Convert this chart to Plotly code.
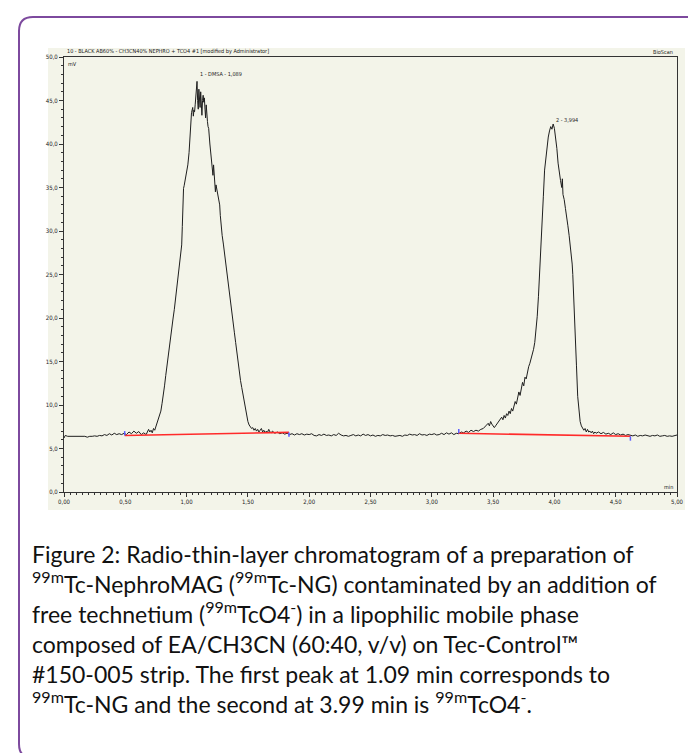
import plotly.graph_objects as go

# ---------------- data ----------------
time_min = [
    0.00, 0.01, 0.03, 0.05, 0.07, 0.09, 0.11, 0.13, 0.15, 0.17, 0.19, 0.21, 0.23, 0.25, 0.27, 0.29,
    0.31, 0.33, 0.35, 0.37, 0.39, 0.41, 0.43, 0.45, 0.47, 0.49, 0.51, 0.53, 0.55, 0.57, 0.59, 0.61,
    0.63, 0.65, 0.67, 0.69, 0.70, 0.71, 0.72, 0.73, 0.74, 0.75,
    0.76, 0.77, 0.78, 0.79, 0.80, 0.81, 0.82, 0.83, 0.84, 0.85, 0.86, 0.87, 0.88, 0.89, 0.90, 0.91,
    0.92, 0.93, 0.94, 0.95, 0.96, 0.965, 0.97, 0.975, 0.98, 0.99, 1.00, 1.01, 1.02, 1.03, 1.035,
    1.04, 1.05, 1.055, 1.06, 1.065, 1.07, 1.075, 1.08, 1.085, 1.09, 1.095, 1.10, 1.105, 1.11, 1.115,
    1.12, 1.125, 1.13, 1.135, 1.14, 1.145, 1.15, 1.155, 1.16, 1.165, 1.17, 1.175, 1.18, 1.19, 1.20,
    1.21, 1.215, 1.22, 1.225, 1.23, 1.235, 1.24, 1.25, 1.26, 1.27, 1.275, 1.28, 1.29, 1.30, 1.31,
    1.32, 1.33, 1.34, 1.35, 1.36, 1.37, 1.38, 1.39, 1.40, 1.41, 1.42, 1.43, 1.44, 1.45, 1.46, 1.47,
    1.48, 1.49, 1.50, 1.51, 1.52, 1.53, 1.54, 1.55, 1.56, 1.57, 1.58, 1.59, 1.60, 1.61, 1.62, 1.63,
    1.64, 1.65, 1.66, 1.67, 1.68, 1.69, 1.70, 1.72, 1.74, 1.76, 1.78, 1.80, 1.82, 1.84, 1.86, 1.88,
    1.90, 1.92, 1.94, 1.96, 1.98, 2.00, 2.02, 2.04, 2.06, 2.08, 2.10, 2.12, 2.14, 2.16, 2.18, 2.20,
    2.22, 2.24, 2.26, 2.28, 2.30, 2.32, 2.34, 2.36, 2.38, 2.40, 2.42, 2.44, 2.46, 2.48, 2.50, 2.52,
    2.54, 2.56, 2.58, 2.60, 2.62, 2.64, 2.66, 2.68, 2.70, 2.72, 2.74, 2.76, 2.78, 2.80, 2.82, 2.84,
    2.86, 2.88, 2.90, 2.92, 2.94, 2.96, 2.98, 3.00, 3.02, 3.04, 3.06, 3.08, 3.10, 3.12, 3.14, 3.16,
    3.18, 3.20, 3.22, 3.24, 3.26, 3.28, 3.30, 3.32, 3.34, 3.36, 3.38, 3.40, 3.42, 3.44, 3.46, 3.47,
    3.48, 3.49, 3.50, 3.51, 3.52, 3.53, 3.54, 3.55, 3.56, 3.57, 3.58, 3.59, 3.60, 3.61, 3.62, 3.63,
    3.64, 3.65, 3.66, 3.67, 3.68, 3.69, 3.70, 3.71, 3.72, 3.73, 3.74, 3.75, 3.76, 3.77, 3.78, 3.79,
    3.80, 3.81, 3.82, 3.83, 3.84, 3.85, 3.86, 3.87, 3.88, 3.89, 3.90, 3.91, 3.92, 3.93, 3.94, 3.95,
    3.96, 3.97, 3.98, 3.99, 4.00, 4.01, 4.02, 4.03, 4.04, 4.05, 4.06, 4.065, 4.07, 4.08, 4.09, 4.10,
    4.11, 4.12, 4.13, 4.14, 4.145, 4.15, 4.16, 4.17, 4.18, 4.19, 4.20, 4.21, 4.22, 4.23, 4.24, 4.25,
    4.26, 4.27, 4.28, 4.29, 4.30, 4.31, 4.32, 4.33, 4.34, 4.36, 4.38, 4.40, 4.42, 4.44, 4.46, 4.48,
    4.50, 4.52, 4.54, 4.56, 4.58, 4.60, 4.62, 4.64, 4.66, 4.68, 4.70, 4.72, 4.74, 4.76, 4.78, 4.80,
    4.82, 4.84, 4.86, 4.88, 4.90, 4.92, 4.94, 4.96, 4.98, 5.00,
]
signal_mv = [
    6.2, 6.5, 6.4, 6.4, 6.35, 6.4, 6.35, 6.4, 6.35, 6.4, 6.3, 6.4, 6.4, 6.45, 6.4, 6.5,
    6.45, 6.6, 6.5, 6.7, 6.55, 6.75, 6.6, 6.7, 6.6, 6.75, 6.6, 6.9, 6.7, 7.0, 6.75, 6.95,
    6.6, 6.8, 6.6, 7.2, 6.9, 7.1, 6.8, 7.3, 7.1, 7.6,
    8.0, 8.6, 8.9, 9.3, 10.2, 11.0, 12.2, 13.4, 14.6, 15.3, 16.5, 17.8, 19.2, 20.0, 21.0, 22.3,
    23.8, 24.6, 25.8, 27.0, 28.4, 30.5, 33.5, 34.9, 35.2, 36.0, 36.8, 37.6, 39.0, 41.5, 43.2,
    43.6, 44.2, 43.2, 43.9, 43.7, 44.5, 45.2, 46.0, 47.2, 45.0, 44.0, 46.3, 45.0, 44.2, 46.0,
    44.5, 43.3, 45.0, 45.6, 44.8, 45.3, 44.0, 43.0, 44.5, 43.0, 42.6, 42.0, 41.8, 40.0, 38.6,
    37.6, 36.4, 37.6, 36.0, 35.0, 34.5, 35.3, 34.5, 33.5, 33.0, 31.8, 30.5, 29.5, 28.5, 27.3,
    26.0, 25.0, 24.0, 22.8, 21.8, 20.5, 19.4, 18.3, 17.2, 16.0, 15.0, 13.6, 12.8, 12.0, 11.2, 10.5,
    9.6, 8.7, 8.1, 7.7, 7.5, 7.3, 7.4, 7.1, 7.3, 7.0, 7.2, 6.9, 7.1, 7.3, 6.9, 7.1,
    6.8, 7.0, 6.85, 7.2, 6.9, 6.8, 7.0, 6.75, 6.9, 6.7, 6.8, 6.65, 6.75, 6.6, 6.7, 6.55,
    6.7, 6.6, 6.7, 6.55, 6.65, 6.6, 6.7, 6.5, 6.45, 6.6, 6.5, 6.65, 6.5, 6.55, 6.45, 6.6,
    6.5, 6.75, 6.55, 6.45, 6.5, 6.4, 6.5, 6.6, 6.45, 6.55, 6.45, 6.65, 6.5, 6.6, 6.45, 6.55,
    6.4, 6.5, 6.45, 6.6, 6.5, 6.55, 6.45, 6.5, 6.4, 6.45, 6.5, 6.4, 6.55, 6.5, 6.65, 6.55,
    6.6, 6.5, 6.7, 6.55, 6.6, 6.5, 6.65, 6.6, 6.7, 6.55, 6.6, 6.75, 6.6, 6.8, 6.65, 6.8,
    6.6, 6.75, 6.7, 6.9, 6.8, 7.0, 6.85, 7.1, 6.95, 7.1, 7.0, 7.2, 7.3, 7.6, 7.9, 7.6,
    8.1, 7.8, 7.6, 7.4, 7.6, 7.8, 7.9, 8.1, 8.4, 8.6, 8.3, 8.8, 8.5, 9.0, 8.8, 9.3,
    9.0, 9.6, 9.3, 10.0, 10.4, 10.1, 10.8, 11.5, 11.1, 12.0, 12.6, 12.2, 13.2, 13.0, 13.9, 14.4,
    14.8, 15.3, 15.8, 16.4, 17.2, 18.6, 20.2, 22.5, 25.0, 27.5, 30.5, 34.0, 37.0, 38.5, 39.5, 40.8,
    41.5, 42.0, 41.7, 42.3, 41.8, 40.8, 39.5, 37.8, 36.5, 35.8, 35.0, 36.0, 34.2, 33.6, 32.6, 31.8,
    30.6, 29.5, 28.3, 27.2, 26.2, 25.0, 22.0, 18.5, 14.5, 11.0, 9.0, 8.1, 7.6, 7.4, 7.1, 7.3,
    6.9, 7.2, 6.9, 7.0, 6.8, 7.0, 6.7, 6.9, 6.75, 6.9, 6.7, 6.85, 6.65, 6.75, 6.6, 6.8,
    6.6, 6.7, 6.55, 6.65, 6.5, 6.6, 6.5, 6.45, 6.55, 6.4, 6.5, 6.45, 6.55, 6.45, 6.4, 6.5,
    6.45, 6.55, 6.4, 6.45, 6.5, 6.4, 6.45, 6.4, 6.5, 6.55,
]

# integration baselines (red) and their limits (blue marks)
base1_t = [0.495, 1.835]
base1_mv = [6.5, 6.85]
base2_t = [3.22, 4.62]
base2_mv = [6.75, 6.4]

peak_times = [1.089, 3.994]
peak_labels = ["1 - DMSA - 1,089", "2 - 3,994"]
peak_label_mv = [48.0, 42.8]

x_tick_vals = [0.0, 0.5, 1.0, 1.5, 2.0, 2.5, 3.0, 3.5, 4.0, 4.5, 5.0]
x_tick_text = ["0,00", "0,50", "1,00", "1,50", "2,00", "2,50", "3,00", "3,50", "4,00", "4,50", "5,00"]
y_tick_vals = [0, 5, 10, 15, 20, 25, 30, 35, 40, 45, 50]
y_tick_text = ["0,0", "5,0", "10,0", "15,0", "20,0", "25,0", "30,0", "35,0", "40,0", "45,0", "50,0"]

chart_title = "10 - BLACK AB60% - CH3CN40% NEPHRO + TCO4 #1 [modified by Administrator]"
caption_lines = [
    "Figure 2: Radio-thin-layer chromatogram of a preparation of",
    "<sup>99m</sup>Tc-NephroMAG (<sup>99m</sup>Tc-NG) contaminated by an addition of",
    "free technetium (<sup>99m</sup>TcO4<sup>-</sup>) in a lipophilic mobile phase",
    "composed of EA/CH3CN (60:40, v/v) on Tec-Control™",
    "#150-005 strip. The first peak at 1.09 min corresponds to",
    "<sup>99m</sup>Tc-NG and the second at 3.99 min is <sup>99m</sup>TcO4<sup>-</sup>.",
]

# ---------------- layout geometry ----------------
W, H = 696, 753
ML, MR, MT, MB = 56, 27, 49, 269
PW = W - ML - MR
PH = H - MT - MB


def px_x(px):
    return (px - ML) / PW


def px_y(py):
    return (H - MB - py) / PH


tiny_family = "Liberation Sans Narrow, DejaVu Sans Condensed, Liberation Sans, Arial"
small_font = dict(family=tiny_family, size=5.5, color="#222222")
tick_font = dict(family=tiny_family, size=6, color="#1a1a1a")

fig = go.Figure()

fig.add_trace(go.Scatter(x=time_min, y=signal_mv, mode="lines",
                         line=dict(color="#1e1e1e", width=1), hoverinfo="skip", showlegend=False))
for bt, bv in [(base1_t, base1_mv), (base2_t, base2_mv)]:
    fig.add_trace(go.Scatter(x=bt, y=bv, mode="lines",
                             line=dict(color="#ff2a2a", width=1.6), hoverinfo="skip", showlegend=False))
    # blue limit marks: start above the baseline, end below
    fig.add_trace(go.Scatter(x=[bt[0], bt[0]], y=[bv[0], bv[0] + 0.5], mode="lines",
                             line=dict(color="#5a5aff", width=1.5), hoverinfo="skip", showlegend=False))
    fig.add_trace(go.Scatter(x=[bt[1], bt[1]], y=[bv[1], bv[1] - 0.5], mode="lines",
                             line=dict(color="#5a5aff", width=1.5), hoverinfo="skip", showlegend=False))

for t, lab, v in zip(peak_times, peak_labels, peak_label_mv):
    fig.add_annotation(x=t, y=v, text=lab, showarrow=False, xanchor="left", yanchor="middle",
                       font=small_font)

# chart header texts
fig.add_annotation(x=px_x(57), y=px_y(44), xref="paper", yref="paper", text=chart_title,
                   showarrow=False, xanchor="left", yanchor="middle", font=small_font)
fig.add_annotation(x=px_x(667), y=px_y(44), xref="paper", yref="paper", text="BioScan",
                   showarrow=False, xanchor="right", yanchor="middle", font=small_font)
fig.add_annotation(x=px_x(58), y=px_y(56), xref="paper", yref="paper", text="mV",
                   showarrow=False, xanchor="left", yanchor="middle", font=small_font)
fig.add_annotation(x=px_x(667), y=px_y(479), xref="paper", yref="paper", text="min",
                   showarrow=False, xanchor="right", yanchor="middle", font=small_font)

# caption (one multi-line text block)
fig.add_annotation(x=px_x(22), y=px_y(530), xref="paper", yref="paper",
                   text="<br>".join(caption_lines), showarrow=False, xanchor="left", yanchor="top",
                   align="left",
                   font=dict(family="Lato, Open Sans, sans-serif", size=23, color="#111111"))

# beige image background
fig.add_shape(type="rect", xref="paper", yref="paper", x0=px_x(40), x1=px_x(677),
              y0=px_y(502), y1=px_y(40), fillcolor="#f3f4e9", line=dict(width=0), layer="below")

# purple rounded card border
L, R, T, B = px_x(11), px_x(695), px_y(9), px_y(750)
rx, ry = 14 / PW, 14 / PH
path = (f"M {L+rx},{T} L {R-rx},{T} Q {R},{T} {R},{T-ry} L {R},{B+ry} Q {R},{B} {R-rx},{B} "
        f"L {L+rx},{B} Q {L},{B} {L},{B+ry} L {L},{T-ry} Q {L},{T} {L+rx},{T} Z")
fig.add_shape(type="path", path=path, xref="paper", yref="paper",
              line=dict(color="#7d4a9e", width=2), fillcolor="rgba(0,0,0,0)", layer="below")

axis_common = dict(showgrid=False, zeroline=False, showline=True, linecolor="#333333", linewidth=1,
                   mirror=True, ticks="outside", ticklen=4, tickwidth=1, tickcolor="#333333",
                   tickfont=tick_font, fixedrange=True)
fig.update_xaxes(range=[0, 5], tickmode="array", tickvals=x_tick_vals, ticktext=x_tick_text,
                 minor=dict(dtick=0.05, ticks="outside", ticklen=2, tickcolor="#333333"), **axis_common)
fig.update_yaxes(range=[0, 50], tickmode="array", tickvals=y_tick_vals, ticktext=y_tick_text,
                 minor=dict(dtick=1, ticks="outside", ticklen=2, tickcolor="#333333"), **axis_common)

fig.update_layout(width=W, height=H, margin=dict(l=ML, r=MR, t=MT, b=MB, autoexpand=False),
                  paper_bgcolor="white", plot_bgcolor="#f3f4e9", showlegend=False)

fig.write_html("out.html")
